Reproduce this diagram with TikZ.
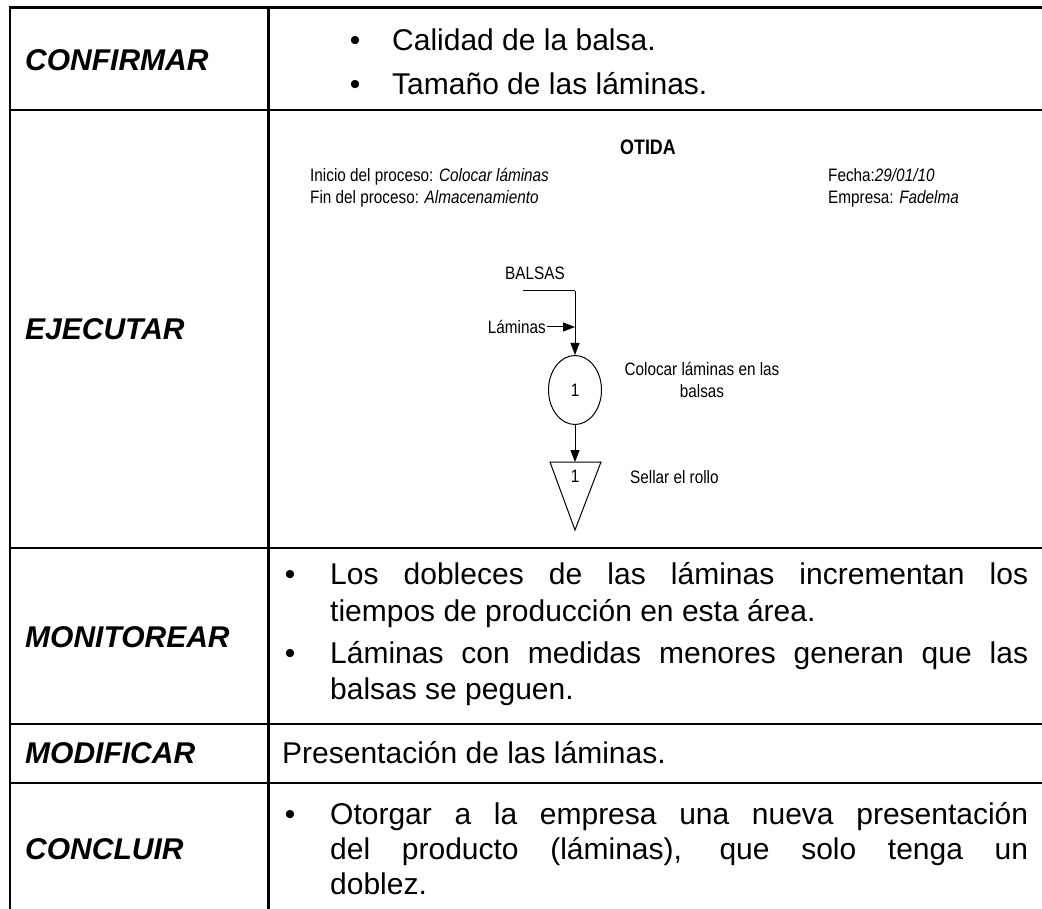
\documentclass[tikz,border=0pt]{standalone}
\usepackage{fontspec}
\setmainfont{Liberation Sans}
\newfontfamily\narrowfont[FakeStretch=0.85]{Liberation Sans}
\usetikzlibrary{arrows.meta,shapes.geometric}
\begin{document}
\begin{tikzpicture}[x=1pt,y=-1pt,
  grid/.style={line width=2.5pt},
  lbl/.style={anchor=base west,inner sep=0,font=\fontsize{30}{36}\selectfont\bfseries\itshape},
  body/.style={anchor=base west,inner sep=0,font=\fontsize{30}{36}\selectfont},
  bul/.style={anchor=base,inner sep=0,font=\fontsize{30}{36}\selectfont},
  small/.style={inner sep=0,font=\narrowfont\fontsize{18}{20}\selectfont},
  arr/.style={line width=1pt,-{Triangle[length=12pt,width=9pt]}},
  thin/.style={line width=1pt}]
\useasboundingbox (0,0) rectangle (1042,909);
\fill[white] (0,0) rectangle (1042,909);
% grid
\draw[grid] (10,909) -- (10,7.5) -- (1042,7.5);
\draw[grid] (268.5,7.5) -- (268.5,909);
\draw[grid] (10,110) -- (1042,110);
\draw[grid] (10,548) -- (1042,548);
\draw[grid] (10,724) -- (1042,724);
\draw[grid] (10,783) -- (1042,783);
% labels
\node[lbl] (lconf) at (25,71) {CONFIRMAR};
\node[lbl] (lejec) at (25,340) {EJECUTAR};
\node[lbl] (lmon) at (25,647) {MONITOREAR};
\node[lbl] (lmod) at (25,763) {MODIFICAR};
\node[lbl] (lconc) at (25,859) {CONCLUIR};
% row 1
\node[bul] (b1) at (355,51) {•};
\node[body] (t1) at (392,51) {Calidad de la balsa.};
\node[bul] (b2) at (355,95) {•};
\node[body] (t2) at (392,95) {Tamaño de las láminas.};
% row 3
\node[bul] (b3) at (290,584) {•};
\node[body] (m1) at (330,584) {\makebox[698pt][s]{Los dobleces de las láminas incrementan los}};
\node[body] (m2) at (330,621) {tiempos de producción en esta área.};
\node[bul] (b4) at (290,663) {•};
\node[body] (m3) at (330,663) {\makebox[698pt][s]{Láminas con medidas menores generan que las}};
\node[body] (m4) at (330,699) {balsas se peguen.};
% row 4
\node[body] (p1) at (282,763) {Presentación de las láminas.};
% row 5
\node[bul] (b5) at (290,824) {•};
\node[body] (c1) at (330,824) {\makebox[698pt][s]{Otorgar a la empresa una nueva presentación}};
\node[body] (c2) at (330,859) {\makebox[698pt][s]{del producto (láminas), que solo tenga un}};
\node[body] (c3) at (330,894) {doblez.};
% diagram header
\node[small,anchor=base,font=\narrowfont\fontsize{21}{24}\selectfont\bfseries] (otida) at (648,154.5) {OTIDA};
\node[small,anchor=base west] (ini) at (310,181.5) {Inicio del proceso: \textit{Colocar láminas}};
\node[small,anchor=base west] (fin) at (310,203.5) {Fin del proceso: \textit{Almacenamiento}};
\node[small,anchor=base west] (fec) at (828,181.5) {Fecha:\textit{29/01/10}};
\node[small,anchor=base west] (emp) at (828,203.5) {Empresa: \textit{Fadelma}};
% diagram
\node[small,anchor=base] (balsas) at (535,279.5) {BALSAS};
\coordinate (bstart) at (523,291);
\coordinate (bcorner) at (575,291);
\node[small,anchor=base east] (lam) at (546,333.5) {Láminas};
\coordinate (lamin) at (575,327);
\node[ellipse,draw,thin,minimum width=53pt,minimum height=69pt,inner sep=0,font=\narrowfont\fontsize{18}{20}\selectfont] (op) at (575,390) {1};
\node[small,anchor=base,align=center] (opl1) at (702,376) {Colocar láminas en las};
\node[small,anchor=base] (opl2) at (702,398) {balsas};
\coordinate (tritop) at (575,462);
\draw[thin,line join=miter] (550,462) -- (601,462) -- (575,530) -- cycle;
\node[small,anchor=base] (al) at (575,482) {1};
\node[small,anchor=base west] (sell) at (630,483) {Sellar el rollo};
\draw[thin] (bstart) -- (bcorner);
\draw[arr] (bcorner) -- (op.north);
\draw[arr] (lam.east |- lamin) ++(1,0) -- (lamin);
\draw[arr] (op.south) -- (tritop);
\end{tikzpicture}
\end{document}
